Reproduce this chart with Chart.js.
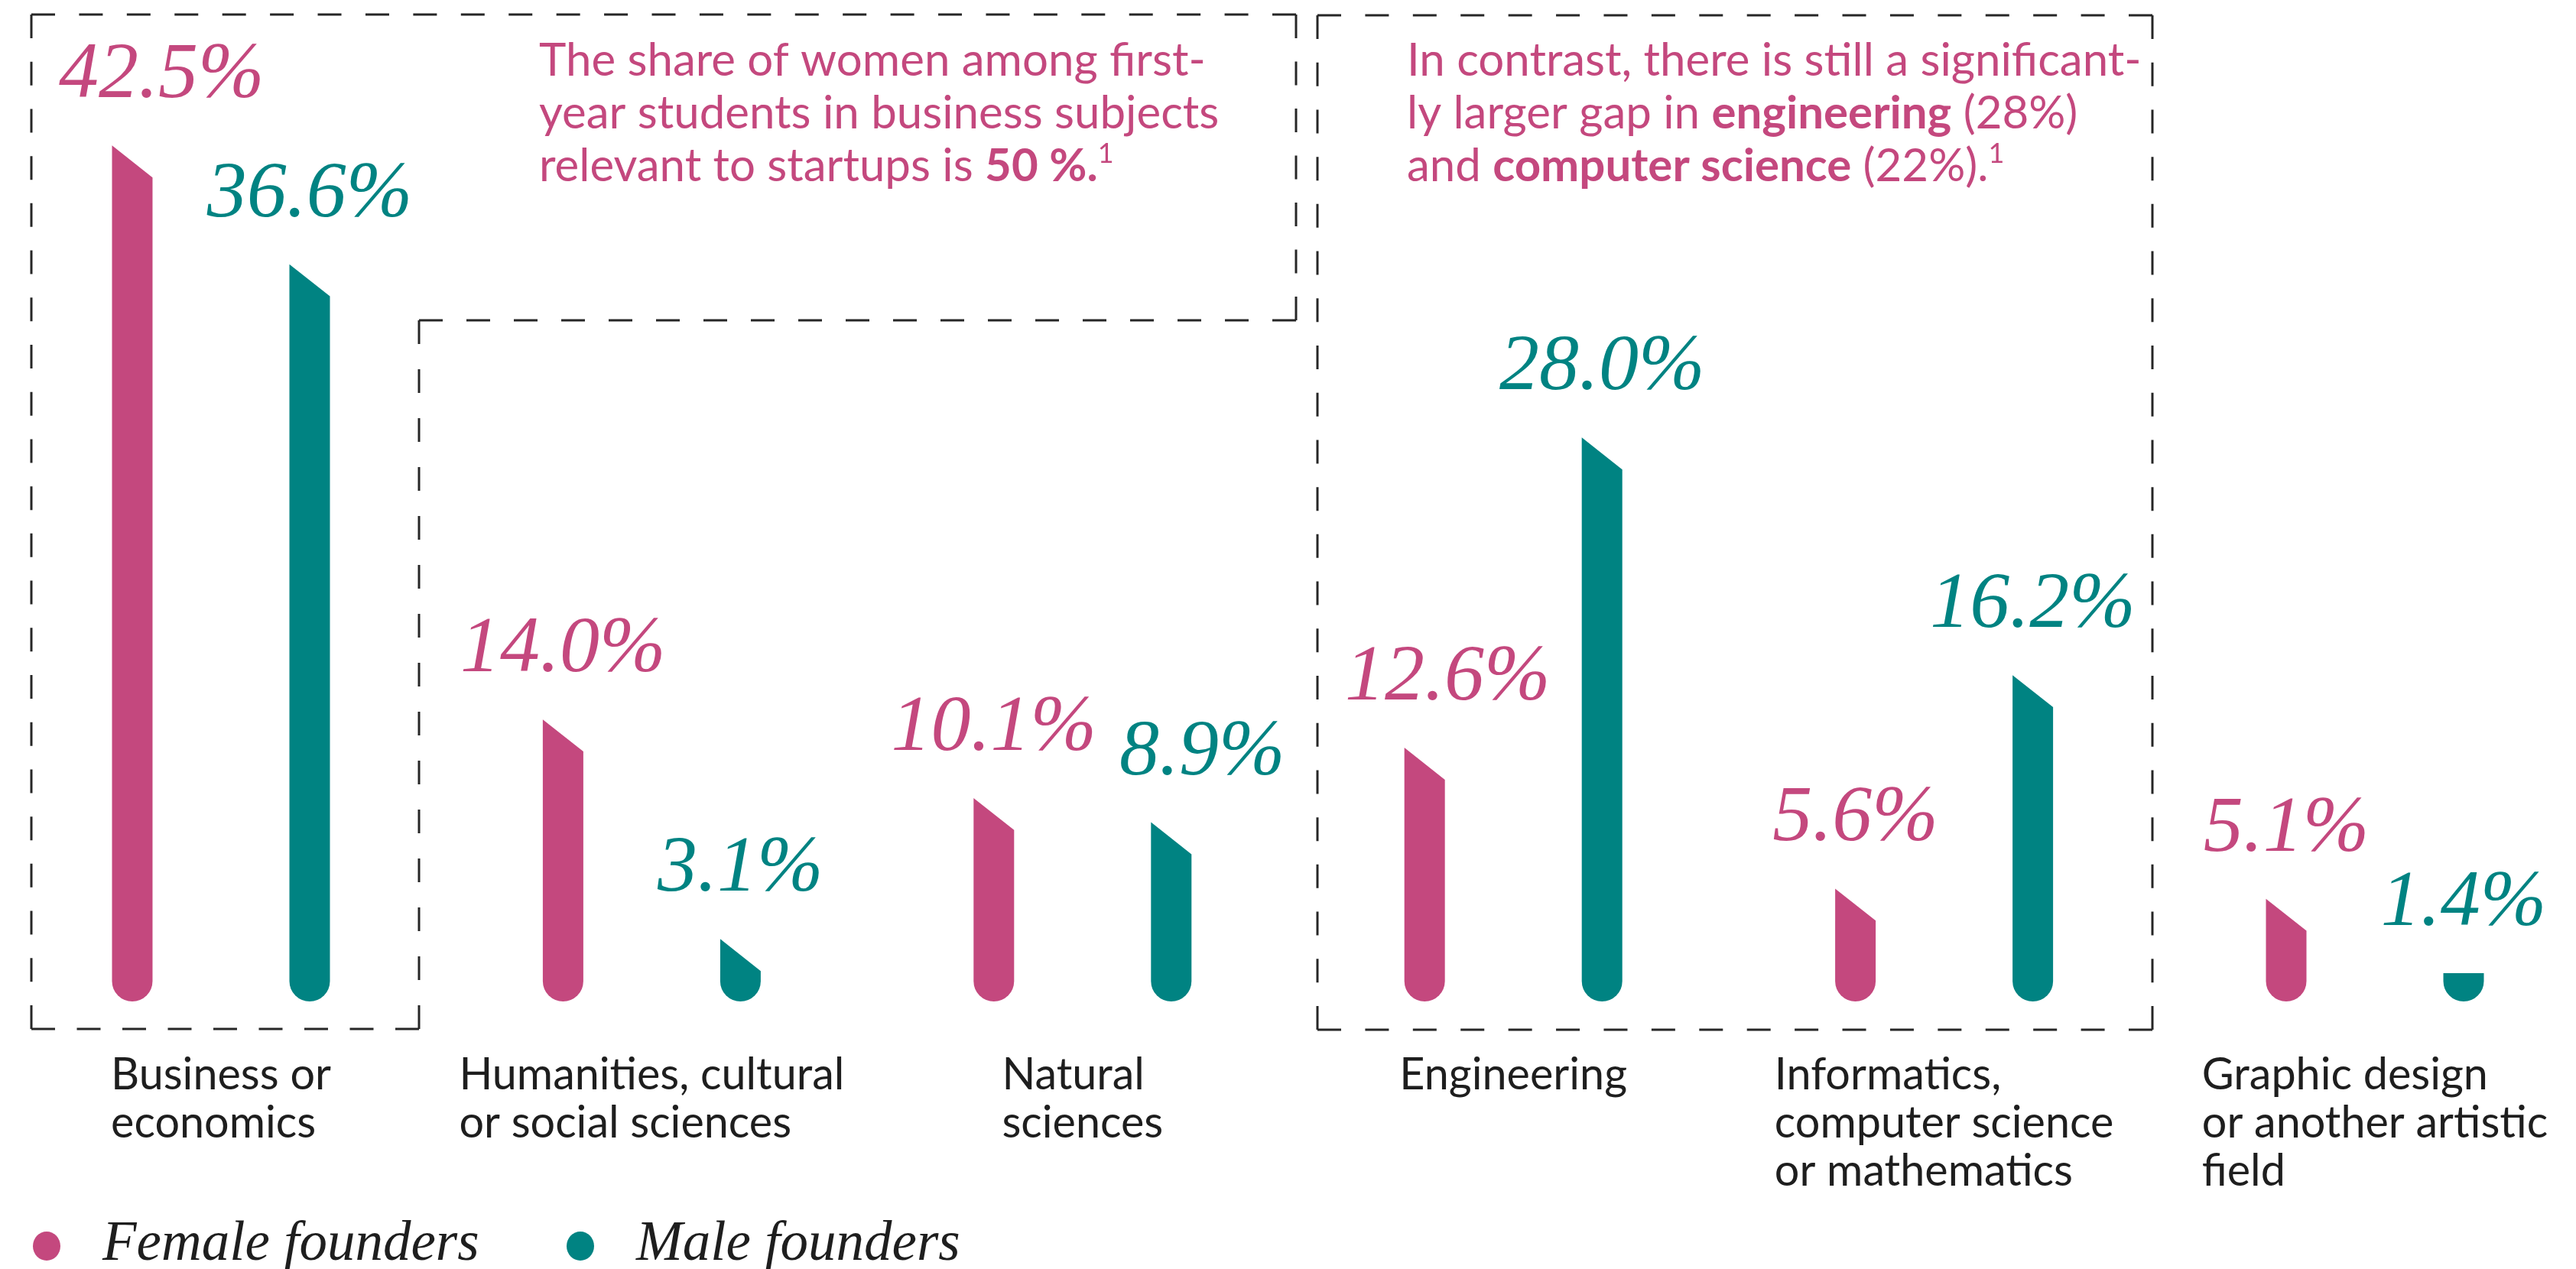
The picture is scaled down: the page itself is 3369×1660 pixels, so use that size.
<!DOCTYPE html>
<html>
<head>
<meta charset="utf-8">
<script src="https://cdn.jsdelivr.net/npm/chart.js@4.4.0/dist/chart.umd.min.js"></script>
<style>
  html, body { margin: 0; padding: 0; background: #fff; }
  canvas { display: block; }
</style>
</head>
<body>
<canvas id="foundersChart" width="3369" height="1660"></canvas>
<script>
// Field of study of founders, share in %
const categories = [
  ['Business or', 'economics'],
  ['Humanities, cultural', 'or social sciences'],
  ['Natural', 'sciences'],
  ['Engineering'],
  ['Informatics,', 'computer science', 'or mathematics'],
  ['Graphic design', 'or another artistic', 'field']
];
const femaleFounders = [42.5, 14.0, 10.1, 12.6, 5.6, 5.1];
const maleFounders = [36.6, 3.1, 8.9, 28.0, 16.2, 1.4];
const seriesNames = ['Female founders', 'Male founders'];

const pink = '#C4487E';
const teal = '#008382';
const ink = '#1e1e1e';

// callout texts: n = normal, b = bold, s = superscript
const noteBusiness = [
  [['n', 'The share of women among first-']],
  [['n', 'year students in business subjects']],
  [['n', 'relevant to startups is '], ['b', '50 %.'], ['s', '1']]
];
const noteTech = [
  [['n', 'In contrast, there is still a significant-']],
  [['n', 'ly larger gap in '], ['b', 'engineering'], ['n', ' (28%)']],
  [['n', 'and '], ['b', 'computer science'], ['n', ' (22%).'], ['s', '1']]
];

const sansFont = '"Lato", "Noto Sans", sans-serif';
const serifFont = '"Liberation Serif", "DejaVu Serif", serif';
const frameLefts = [41, 1723];

// bar with slanted top and round bottom
function drawDrop(ctx, x, y, base, w, color) {
  const r = w / 2;
  const left = x - r, right = x + r;
  const capY = base - r;
  const slant = w * 0.79;
  ctx.beginPath();
  if (y + slant <= capY) {
    ctx.moveTo(left, y);
    ctx.lineTo(right, y + slant);
    ctx.lineTo(right, capY);
    ctx.arc(x, capY, r, 0, Math.PI);
    ctx.lineTo(left, y);
  } else {
    const top = Math.min(y, capY);
    ctx.moveTo(left, top);
    ctx.lineTo(right, top);
    ctx.lineTo(right, capY);
    ctx.arc(x, capY, r, 0, Math.PI);
  }
  ctx.closePath();
  ctx.fillStyle = color;
  ctx.fill();
}

function dashedLine(ctx, x1, y1, x2, y2) {
  const len = Math.hypot(x2 - x1, y2 - y1);
  const dash = 31;
  const n = Math.max(2, Math.round((len + 32) / 63));
  const gap = (len - n * dash) / (n - 1);
  ctx.setLineDash([dash, gap]);
  ctx.beginPath();
  ctx.moveTo(x1, y1);
  ctx.lineTo(x2, y2);
  ctx.stroke();
}

function dashedPolygon(ctx, pts) {
  for (let i = 0; i < pts.length; i++) {
    const a = pts[i], b = pts[(i + 1) % pts.length];
    dashedLine(ctx, a[0], a[1], b[0], b[1]);
  }
}

function drawNote(ctx, lines, x, y, lineH) {
  ctx.fillStyle = pink;
  ctx.textAlign = 'left';
  ctx.textBaseline = 'alphabetic';
  lines.forEach((runs, li) => {
    let cx = x;
    const by = y + li * lineH;
    runs.forEach(([style, txt]) => {
      let dy = 0;
      if (style === 'b') ctx.font = 'bold 60px ' + sansFont;
      else if (style === 's') { ctx.font = '36px ' + sansFont; dy = -24; }
      else ctx.font = '60px ' + sansFont;
      ctx.fillText(txt, cx, by + dy);
      cx += ctx.measureText(txt).width;
    });
  });
}

const foundersPlugin = {
  id: 'founders',
  beforeDatasetDraw() {
    return false; // default rectangles replaced by drop shapes below
  },
  afterDatasetsDraw(chart) {
    const ctx = chart.ctx;
    ctx.save();
    ctx.font = 'italic 104px ' + serifFont;
    ctx.textAlign = 'left';
    ctx.textBaseline = 'alphabetic';
    const placed = []; // value label boxes per category
    chart.data.datasets.forEach((ds, di) => {
      const meta = chart.getDatasetMeta(di);
      meta.data.forEach((bar, i) => {
        const p = bar.getProps(['x', 'y', 'base', 'width'], true);
        drawDrop(ctx, p.x, p.y, p.base, p.width, ds.backgroundColor);
        const txt = ds.data[i].toFixed(1) + '%';
        const w = ctx.measureText(txt).width;
        let lx = p.x - w / 2;
        // keep labels clear of the dashed frame edges
        frameLefts.forEach(f => {
          if (p.x > f && p.x - f < 200 && lx < f + 36) lx = f + 36;
        });
        const by = p.y - 63;
        const prev = placed[i];
        if (prev && Math.abs(prev.by - by) < 75 && lx < prev.right + 30) {
          lx = prev.right + 30;
        }
        placed[i] = { right: lx + w, by };
        ctx.fillStyle = ds.backgroundColor;
        ctx.fillText(txt, lx, by);
      });
    });
    ctx.restore();
  },
  afterDraw(chart) {
    const ctx = chart.ctx;
    const xScale = chart.scales.x;
    ctx.save();

    // category labels, block centred under the pair, lines left aligned
    ctx.font = '57.5px ' + sansFont;
    ctx.fillStyle = ink;
    ctx.textAlign = 'left';
    ctx.textBaseline = 'alphabetic';
    chart.data.labels.forEach((lines, i) => {
      const cx = xScale.getPixelForValue(i);
      const w = Math.max(...lines.map(l => ctx.measureText(l).width));
      lines.forEach((l, li) => ctx.fillText(l, cx - w / 2, 1425 + li * 63));
    });

    // dashed callout frames
    ctx.strokeStyle = '#262626';
    ctx.lineWidth = 3;
    dashedPolygon(ctx, [[frameLefts[0], 19], [1695, 19], [1695, 419], [548, 419], [548, 1346], [frameLefts[0], 1346]]);
    dashedPolygon(ctx, [[frameLefts[1], 20], [2815, 20], [2815, 1347], [frameLefts[1], 1347]]);
    ctx.setLineDash([]);

    drawNote(ctx, noteBusiness, 705, 99, 69);
    drawNote(ctx, noteTech, 1840, 99, 69);

    // legend
    const legendX = [61, 759];
    chart.data.datasets.forEach((ds, di) => {
      ctx.fillStyle = ds.backgroundColor;
      ctx.beginPath();
      ctx.ellipse(legendX[di], 1630, 18, 19, 0, 0, Math.PI * 2);
      ctx.fill();
      ctx.fillStyle = ink;
      ctx.font = 'italic 73px ' + serifFont;
      ctx.fillText(ds.label, legendX[di] + 73, 1648);
    });
    ctx.restore();
  }
};

function makeChart() {
  new Chart(document.getElementById('foundersChart'), {
    type: 'bar',
    data: {
      labels: categories,
      datasets: [
        { label: seriesNames[0], data: femaleFounders, backgroundColor: pink },
        { label: seriesNames[1], data: maleFounders, backgroundColor: teal }
      ]
    },
    options: {
      responsive: false,
      animation: false,
      devicePixelRatio: 1,
      layout: { padding: { left: 289, right: 263, top: 48, bottom: 350 } },
      datasets: { bar: { categoryPercentage: 0.8236, barPercentage: 0.2284 } },
      scales: {
        x: { display: false, offset: false },
        y: { display: false, min: 0, max: 47.9 }
      },
      plugins: {
        legend: { display: false },
        tooltip: { enabled: false }
      }
    },
    plugins: [foundersPlugin]
  });
}

Promise.all([
  document.fonts.load('56px "Lato"'),
  document.fonts.load('bold 60px "Lato"'),
  document.fonts.load('italic 104px "Liberation Serif"')
]).then(makeChart, makeChart);
</script>
</body>
</html>
